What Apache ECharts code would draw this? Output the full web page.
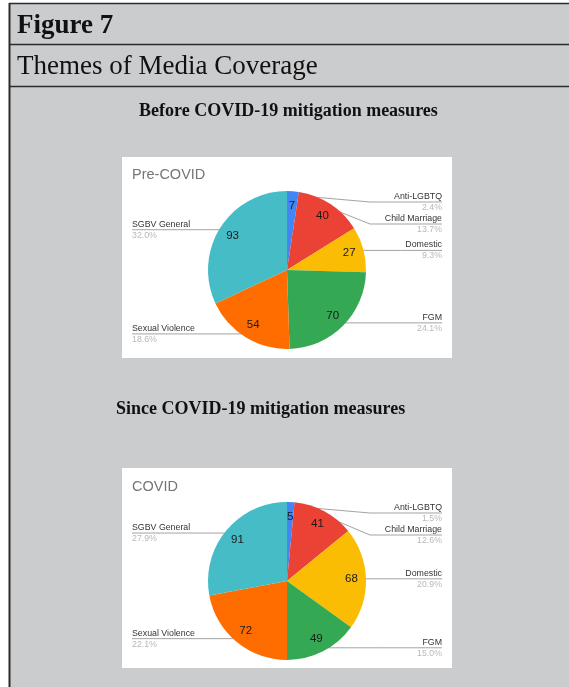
<!DOCTYPE html>
<html>
<head>
<meta charset="utf-8">
<script src="https://cdn.jsdelivr.net/npm/echarts@6/dist/echarts.min.js"></script>
<style>
html,body{margin:0;padding:0;background:#ffffff;}
#chart{width:569px;height:687px;}
</style>
</head>
<body>
<div id="chart"></div>
<script>
const categories = ['Anti-LGBTQ', 'Child Marriage', 'Domestic', 'FGM', 'Sexual Violence', 'SGBV General'];
const preCovidValues = [7, 40, 27, 70, 54, 93];
const covidValues = [5, 41, 68, 49, 72, 91];
const sliceColors = ['#4285f4', '#ea4335', '#fbbc04', '#34a853', '#ff6d01', '#46bdc6'];
const figureLabel = 'Figure 7';
const figureTitle = 'Themes of Media Coverage';
const beforeHeading = 'Before COVID-19 mitigation measures';
const sinceHeading = 'Since COVID-19 mitigation measures';
const preChartTitle = 'Pre-COVID';
const covidChartTitle = 'COVID';

const chart = echarts.init(document.getElementById('chart'), null, {renderer: 'canvas'});

const R = 79;
const LABEL_H = 22;
const PIE1 = {left: 122, width: 330, top: 191, height: 158, cx: 287, cy: 270};
const PIE2 = {left: 122, width: 330, top: 502, height: 158, cx: 287, cy: 581};

function toData(values) {
  return categories.map((c, i) => ({name: c, value: values[i], itemStyle: {color: sliceColors[i]}}));
}

// Label rows placed like the spreadsheet tool: at the height of the anchor dot,
// pushed apart downward and kept within the vertical extent of the pie.
function labelRows(values, cy, r) {
  const total = values.reduce((a, b) => a + b, 0);
  let cum = 0;
  const items = values.map((v, i) => {
    const th = (cum + v / 2) / total * Math.PI * 2;
    cum += v;
    return {i: i, right: Math.sin(th) >= 0, y: cy - (r - 4) * Math.cos(th)};
  });
  const ys = new Array(values.length);
  const top = cy - r + LABEL_H / 2, bottom = cy + r - LABEL_H / 2;
  [true, false].forEach(side => {
    const list = items.filter(it => it.right === side).sort((a, b) => a.y - b.y);
    let prev = -Infinity;
    list.forEach(it => { it.y = Math.max(it.y, prev + LABEL_H, top); prev = it.y; });
    let next = Infinity;
    for (let k = list.length - 1; k >= 0; k--) {
      list[k].y = Math.min(list[k].y, next - LABEL_H, bottom);
      next = list[k].y;
    }
    list.forEach(it => { ys[it.i] = it.y; });
  });
  return ys;
}

function makeLayout(box, values, r) {
  const rows = labelRows(values, box.cy, r);
  const cx = box.cx, cy = box.cy;
  return function (p) {
    const pts = p.labelLinePoints;
    const lr = p.labelRect;
    const ly = rows[p.dataIndex];
    const right = (lr.x + lr.width / 2) > cx;
    if (!pts || !pts.length) return {y: ly};
    const e = pts[0];
    const dx = e[0] - cx, dy = e[1] - cy;
    const d = Math.sqrt(dx * dx + dy * dy) || 1;
    const p0 = [cx + dx / d * (r - 4), cy + dy / d * (r - 4)];
    const far = right ? lr.x + lr.width : lr.x;
    let mid;
    if (Math.abs(p0[1] - ly) < 2) {
      p0[1] = ly;
      mid = [(p0[0] + far) / 2, ly];
    } else {
      mid = [cx + (right ? 1 : -1) * (r + 4), ly];
    }
    return {y: ly, labelLinePoints: [p0, mid, [far, ly]]};
  };
}

function outerSeries(box, values) {
  return {
    type: 'pie',
    left: box.left, top: box.top, width: box.width, height: box.height,
    center: [box.cx - box.left, box.cy - box.top],
    radius: [0, R],
    startAngle: 90,
    clockwise: true,
    percentPrecision: 4,
    silent: true,
    animation: false,
    data: toData(values),
    itemStyle: {borderWidth: 0},
    label: {
      show: true,
      position: 'outside',
      alignTo: 'edge',
      edgeDistance: 10,
      overflow: 'none',
      verticalAlign: 'middle',
      formatter: function (p) {
        return '{n|' + p.name + '}\n{p|' + p.percent.toFixed(1) + '%}';
      },
      rich: {
        n: {fontFamily: 'Liberation Sans', fontSize: 8.8, color: '#333333', lineHeight: 11},
        p: {fontFamily: 'Liberation Sans', fontSize: 8.8, color: '#b8b8b8', lineHeight: 11}
      }
    },
    labelLine: {show: true, length: 1, length2: 4, smooth: false, lineStyle: {color: '#a3a3a3', width: 1}},
    labelLayout: makeLayout(box, values, R),
    emphasis: {disabled: true}
  };
}

function innerSeries(box, values) {
  return {
    type: 'pie',
    left: box.left, top: box.top, width: box.width, height: box.height,
    center: [box.cx - box.left, box.cy - box.top],
    radius: [44, R],
    startAngle: 90,
    clockwise: true,
    silent: true,
    animation: false,
    z: 5,
    data: categories.map((c, i) => ({name: c, value: values[i]})),
    itemStyle: {color: 'rgba(0,0,0,0)', borderWidth: 0},
    label: {
      show: true,
      position: 'inside',
      formatter: '{c}',
      fontFamily: 'Liberation Sans',
      fontSize: 11.5,
      color: '#1a1a1a'
    },
    labelLine: {show: false},
    emphasis: {disabled: true}
  };
}

const option = {
  backgroundColor: '#ffffff',
  animation: false,
  graphic: [
    {type: 'rect', z: -10, shape: {x: 9, y: 3, width: 600, height: 700}, style: {fill: '#cbcccd'}},
    {type: 'line', z: -5, shape: {x1: 9, y1: 3.5, x2: 569, y2: 3.5}, style: {stroke: '#2b2b2b', lineWidth: 1.5}},
    {type: 'line', z: -5, shape: {x1: 9.5, y1: 3, x2: 9.5, y2: 687}, style: {stroke: '#2b2b2b', lineWidth: 2}},
    {type: 'line', z: -5, shape: {x1: 9, y1: 44.5, x2: 569, y2: 44.5}, style: {stroke: '#2b2b2b', lineWidth: 1.5}},
    {type: 'line', z: -5, shape: {x1: 9, y1: 86.5, x2: 569, y2: 86.5}, style: {stroke: '#2b2b2b', lineWidth: 1.5}},
    {type: 'text', z: -4, x: 17, y: 26, style: {text: figureLabel, fontFamily: 'Liberation Serif', fontWeight: 'bold', fontSize: 27, fill: '#111111', textVerticalAlign: 'middle'}},
    {type: 'text', z: -4, x: 17, y: 67, style: {text: figureTitle, fontFamily: 'Liberation Serif', fontSize: 27, fill: '#111111', textVerticalAlign: 'middle'}},
    {type: 'text', z: -4, x: 139, y: 111, style: {text: beforeHeading, fontFamily: 'Liberation Serif', fontWeight: 'bold', fontSize: 18, fill: '#111111', textVerticalAlign: 'middle'}},
    {type: 'text', z: -4, x: 116, y: 409, style: {text: sinceHeading, fontFamily: 'Liberation Serif', fontWeight: 'bold', fontSize: 18, fill: '#111111', textVerticalAlign: 'middle'}},
    {type: 'rect', z: -4, shape: {x: 122, y: 157, width: 330, height: 201}, style: {fill: '#ffffff'}},
    {type: 'rect', z: -4, shape: {x: 122, y: 468, width: 330, height: 200}, style: {fill: '#ffffff'}},
    {type: 'text', z: -3, x: 132, y: 175, style: {text: preChartTitle, fontFamily: 'Liberation Sans', fontSize: 14.5, fill: '#757575', textVerticalAlign: 'middle'}},
    {type: 'text', z: -3, x: 132, y: 487, style: {text: covidChartTitle, fontFamily: 'Liberation Sans', fontSize: 14.5, fill: '#757575', textVerticalAlign: 'middle'}}
  ],
  series: [
    outerSeries(PIE1, preCovidValues),
    innerSeries(PIE1, preCovidValues),
    outerSeries(PIE2, covidValues),
    innerSeries(PIE2, covidValues)
  ]
};
chart.setOption(option);
</script>
</body>
</html>
